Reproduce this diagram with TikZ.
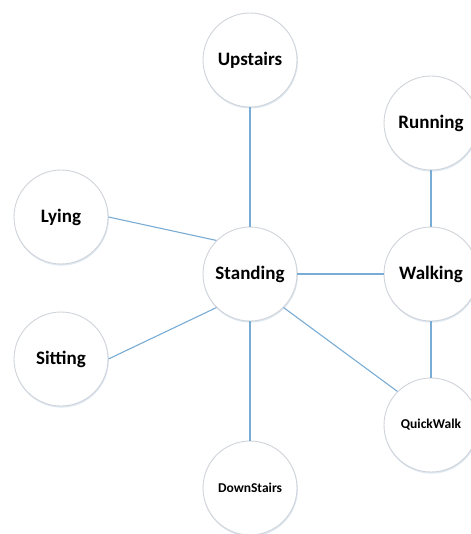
\documentclass[tikz,border=0pt]{standalone}
\usepackage{fontspec}
\setmainfont{Carlito}
\definecolor{edgeblue}{RGB}{120,172,212}
\definecolor{ringgray}{RGB}{208,212,218}
\definecolor{shadowblue}{RGB}{222,232,242}
\begin{document}
\begin{tikzpicture}[x=1pt,y=-1pt,
  state/.style={circle,draw=ringgray,line width=0.9pt,fill=white,minimum size=94pt,inner sep=0pt,font=\bfseries\fontsize{19}{22}\selectfont,text=black},
  small/.style={font=\bfseries\fontsize{13.5}{16}\selectfont},
  link/.style={draw=edgeblue,line width=1.1pt}]
\useasboundingbox (0,0) rectangle (470,534);
\foreach \p in {(250,60),(431,123),(61,217),(250,274),(431,274),(61,359),(431,425),(250,488)}
  \fill[shadowblue] \p ++(0.5,1.2) circle (47.4);
\node[state] (up) at (250,60) {Upstairs};
\node[state] (run) at (431,123) {Running};
\node[state] (ly) at (61,217) {Lying};
\node[state] (st) at (250,274) {Standing};
\node[state] (wa) at (431,274) {Walking};
\node[state] (si) at (61,359) {Sitting};
\node[state,small] (qw) at (431,425) {QuickWalk};
\node[state,small] (ds) at (250,488) {DownStairs};
\draw[link] (up) -- (st);
\draw[link] (run) -- (wa);
\draw[link] (st) -- (wa);
\draw[link] (wa) -- (qw);
\draw[link] (st) -- (ds);
\draw[link] (ly.east) -- (st.135);
\draw[link] (si.east) -- (st.225);
\draw[link] (st.-45) -- (qw.135);
\end{tikzpicture}
\end{document}
